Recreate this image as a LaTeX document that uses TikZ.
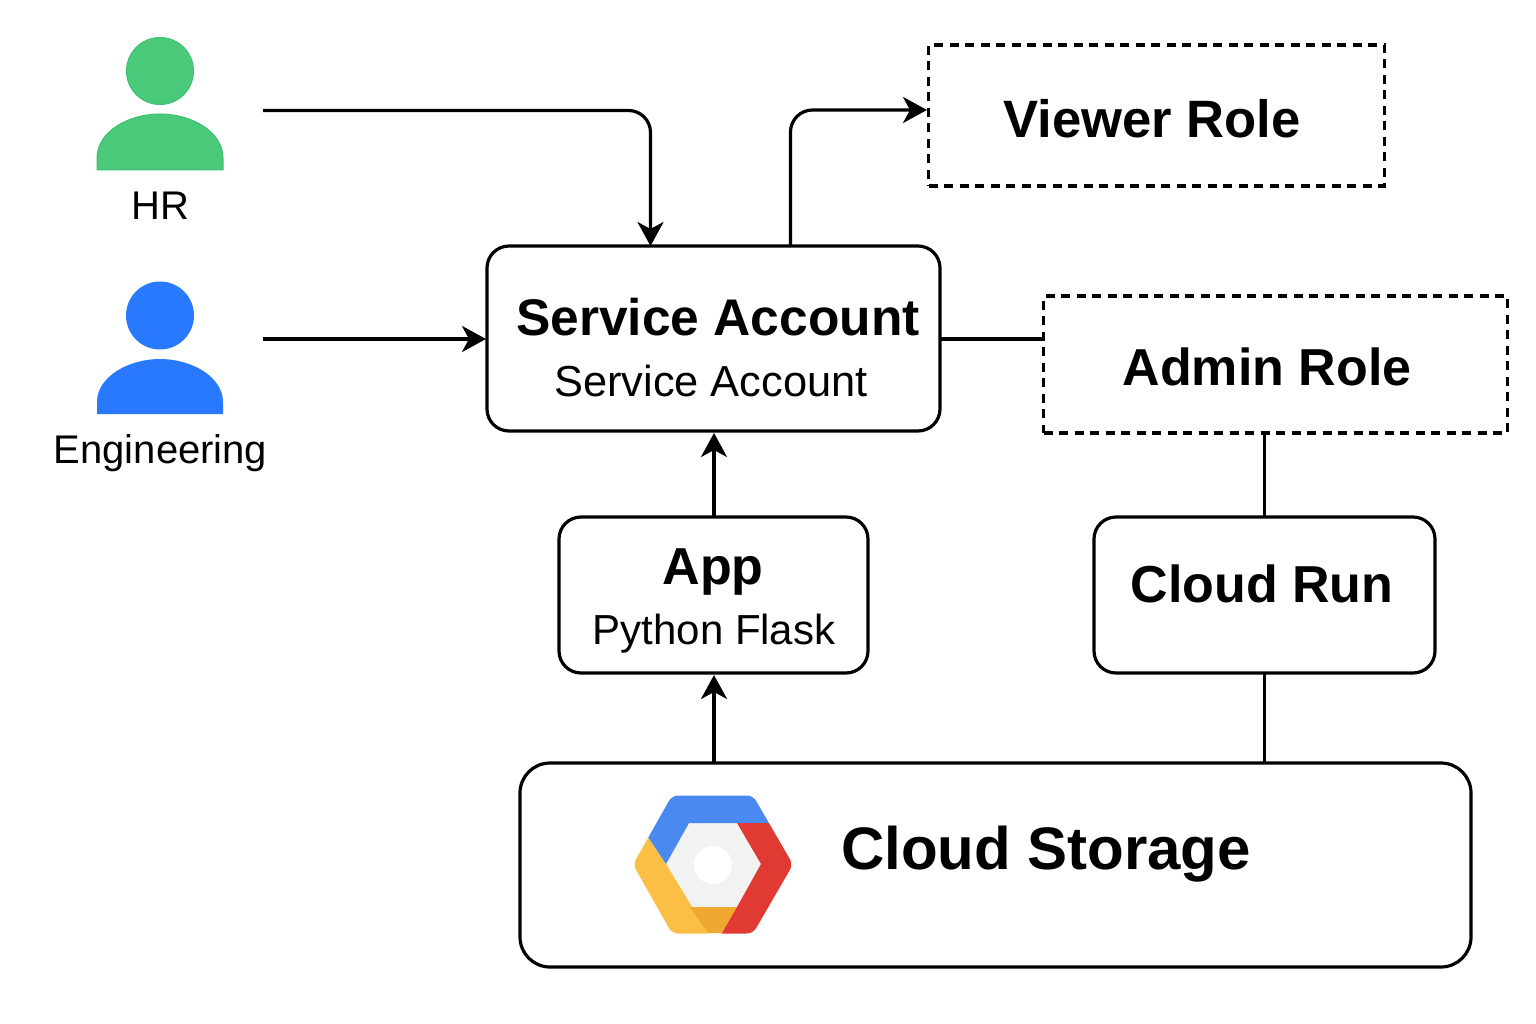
\documentclass[tikz,border=0pt]{standalone}
\usepackage{fontspec}
\setmainfont{Liberation Sans}
\usetikzlibrary{arrows.meta,calc}
\definecolor{hrgreen}{HTML}{4BC97B}
\definecolor{hredge}{HTML}{3CC070}
\definecolor{engblue}{HTML}{2979FF}
\definecolor{lgblue}{HTML}{4A8AF0}
\definecolor{lgred}{HTML}{E03A32}
\definecolor{lgyellow}{HTML}{FBBF45}
\definecolor{lgdark}{HTML}{F0A830}
\definecolor{lggray}{HTML}{F2F2F2}
\tikzset{
  x=1pt,y=-1pt,
  box/.style={draw=black,line width=3.2pt,rounded corners=#1,inner sep=0pt,fill=none},
  box/.default=22pt,
  rolebox/.style={draw=black,line width=3.4pt,dash pattern=on 9pt off 6.5pt,inner sep=0pt},
  titletext/.style={font=\bfseries\fontsize{52}{56}\selectfont,inner sep=0pt,anchor=center},
  subtext/.style={font=\fontsize{43}{47}\selectfont,inner sep=0pt,anchor=center},
  persontext/.style={font=\fontsize{40}{44}\selectfont,inner sep=0pt,anchor=center},
  conn/.style={draw=black,line width=3.2pt},
  arrowconn/.style={conn,-{Stealth[length=24pt,width=26pt,inset=7pt]}},
}
\begin{document}
\begin{tikzpicture}
\useasboundingbox (0,0) rectangle (1536,1024);
% people
\fill[hrgreen,draw=hredge,line width=1pt] (160,71) circle (33.5);
\fill[hrgreen,draw=hredge,line width=1pt] (97,170) -- (97,158) .. controls (97,132) and (128,114) .. (160,114) .. controls (192,114) and (223,132) .. (223,158) -- (223,170) -- cycle;
\node[persontext] (hrlabel) at (160.5,206) {HR};
\fill[engblue] (160,315.5) circle (34);
\fill[engblue] (97,414) -- (97,402) .. controls (97,377) and (128,359) .. (160,359) .. controls (192,359) and (223,377) .. (223,402) -- (223,414) -- cycle;
\node[persontext] (englabel) at (160.5,453) {Engineering};
\coordinate (hrout) at (263,110.5);
\coordinate (engout) at (263,339);
% boxes
\node[rolebox,minimum width=456pt,minimum height=141pt] (viewer) at (1156.5,115.5) {};
\node[rolebox,minimum width=464pt,minimum height=137pt] (admin) at (1275.5,364.5) {};
\node[box,minimum width=453pt,minimum height=185pt] (svc) at (713.5,338.5) {};
\node[box,minimum width=309pt,minimum height=156pt] (app) at (713.5,595) {};
\node[box,minimum width=341pt,minimum height=156pt] (run) at (1264.5,595) {};
\node[box=30pt,minimum width=951pt,minimum height=204pt] (storage) at (995.5,865) {};
% text
\node[titletext,font=\bfseries\fontsize{52.6}{56}\selectfont] (viewert) at (1152,119) {Viewer Role};
\node[titletext] (admint) at (1267,367) {Admin Role};
\node[titletext,font=\bfseries\fontsize{51.5}{56}\selectfont] (svct) at (718,317) {Service Account};
\node[subtext,font=\fontsize{43.4}{47}\selectfont] (svcs) at (711,381) {Service Account};
\node[titletext] (appt) at (713,572) {App};
\node[subtext,font=\fontsize{42}{46}\selectfont] (apps) at (714,634) {Python Flask};
\node[titletext] (runt) at (1262,584) {Cloud Run};
\node[titletext,font=\bfseries\fontsize{60}{64}\selectfont] (storet) at (1046,854) {Cloud Storage};
% logo
\begin{scope}
\clip[rounded corners=6pt] (633,864.5) -- (672,795.5) -- (753,795.5) -- (793,864.5) -- (753,933.5) -- (672,933.5) -- cycle;
\fill[lggray] (666,864) -- (689,823) -- (737,823) -- (761,864) -- (737,907) -- (690,907) -- cycle;
\fill[lgyellow] (648,837) -- (625,864) -- (665,945) -- (715,945) -- (708,933) -- (666,864) -- cycle;
\fill[lgdark] (690,907) -- (737,907) -- (722,933) -- (708,933) -- cycle;
\fill[lgblue] (648,837) -- (680,780) -- (760,780) -- (769,823) -- (689,823) -- (666,864) -- cycle;
\fill[lgred] (737,823) -- (769,823) -- (800,864) -- (760,945) -- (715,945) -- (722,933) -- (737,907) -- (761,864) -- cycle;
\end{scope}
\fill[white] (713,865) circle (19);
% connectors
\coordinate (svcin) at (650.5,246);
\coordinate (svcup) at (790.5,246);
\coordinate (viewin) at (927,110);
\coordinate (svcw) at (486,339);
\coordinate (svce) at (940,339);
\coordinate (adminw) at (1044,339);
\draw[arrowconn,rounded corners=22pt] (hrout) -| (svcin);
\draw[arrowconn] (engout) -- (svcw);
\draw[arrowconn,rounded corners=22pt] (svcup) |- (viewin);
\draw[conn] (svce) -- (adminw);
\coordinate (a1) at (1264.5,433);
\coordinate (a2) at (1264.5,517);
\coordinate (a3) at (1264.5,673);
\coordinate (a4) at (1264.5,763);
\draw[conn] (a1) -- (a2);
\draw[conn] (a3) -- (a4);
\coordinate (b1) at (714,763);
\coordinate (b2) at (714,675);
\coordinate (b3) at (714,517);
\coordinate (b4) at (714,433);
\draw[arrowconn] (b1) -- (b2);
\draw[arrowconn] (b3) -- (b4);
\end{tikzpicture}
\end{document}
